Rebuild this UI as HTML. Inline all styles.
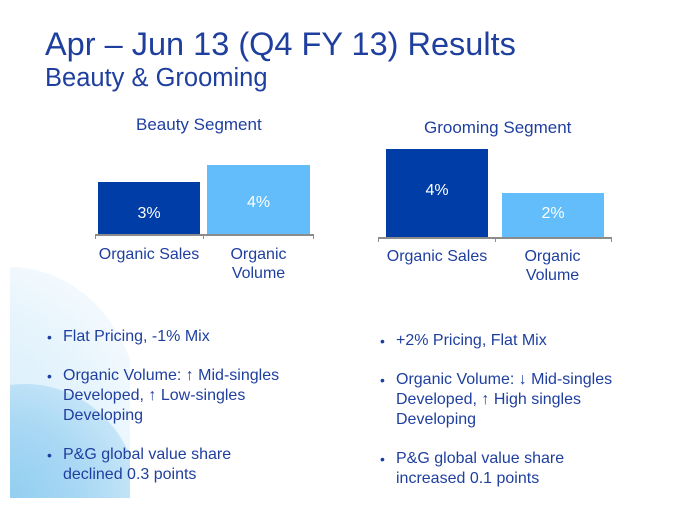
<!DOCTYPE html>
<html><head><style>
html,body{margin:0;width:679px;height:517px;overflow:hidden}
body{background:#fff;position:relative;font-family:"Liberation Sans",Arial,sans-serif;color:#1f3f9f}
.a{position:absolute;white-space:nowrap}
.bg{position:absolute;left:10px;top:267px;width:120px;height:231px;overflow:hidden}
.c1{position:absolute;left:-130px;top:0;width:260px;height:300px;border-radius:50%;background:radial-gradient(circle at 30% 60%,#d4ecfa 0%,#e6f4fc 55%,#f4fafe 80%)}
.c2{position:absolute;left:-100px;top:117px;width:230px;height:240px;border-radius:50%;background:radial-gradient(circle at 40% 50%,#8fcdf0 0%,#a9d8f4 45%,#d5ecfa 90%)}
.bar{position:absolute}
.v{position:absolute;color:#fff;font-size:16px;text-align:center}
.ax{position:absolute;height:2px;background:#8c8c8c}
.tk{position:absolute;width:1px;height:5px;background:#8c8c8c}
.cat{position:absolute;font-size:16px;text-align:center;line-height:19px}
ul{position:absolute;margin:0;padding:0;list-style:none;font-size:16px;line-height:20px}
li{position:relative;padding-left:16px;margin-bottom:19px}
li:last-child{margin-bottom:0}
li:before{content:"•";position:absolute;left:0;font-size:14px}
</style></head><body>
<div class="bg"><div class="c1"></div><div class="c2"></div></div>
<div class="a" style="left:45px;top:26px;font-size:32.5px">Apr – Jun 13 (Q4 FY 13) Results</div>
<div class="a" style="left:45px;top:64px;font-size:25.5px">Beauty &amp; Grooming</div>

<div class="a" style="left:136px;top:115px;font-size:17px">Beauty Segment</div>
<div class="bar" style="left:98px;top:182px;width:102px;height:52px;background:#003da6"></div>
<div class="bar" style="left:207px;top:165px;width:103px;height:69px;background:#62bdfa"></div>
<div class="v" style="left:98px;top:205px;width:102px">3%</div>
<div class="v" style="left:207px;top:194px;width:103px">4%</div>
<div class="ax" style="left:95px;top:234px;width:219px"></div>
<div class="tk" style="left:95px;top:234px"></div><div class="tk" style="left:203px;top:234px"></div><div class="tk" style="left:313px;top:234px"></div>
<div class="cat" style="left:86px;top:245px;width:126px">Organic Sales</div>
<div class="cat" style="left:200px;top:245px;width:117px">Organic<br>Volume</div>

<div class="a" style="left:424px;top:118px;font-size:17px">Grooming Segment</div>
<div class="bar" style="left:386px;top:149px;width:102px;height:88px;background:#003da6"></div>
<div class="bar" style="left:502px;top:193px;width:102px;height:44px;background:#62bdfa"></div>
<div class="v" style="left:386px;top:182px;width:102px">4%</div>
<div class="v" style="left:502px;top:205px;width:102px">2%</div>
<div class="ax" style="left:378px;top:237px;width:234px"></div>
<div class="tk" style="left:378px;top:237px"></div><div class="tk" style="left:495px;top:237px"></div><div class="tk" style="left:611px;top:237px"></div>
<div class="cat" style="left:374px;top:247px;width:126px">Organic Sales</div>
<div class="cat" style="left:494px;top:247px;width:117px">Organic<br>Volume</div>

<ul style="left:47px;top:327px;width:240px">
<li>Flat Pricing, -1% Mix</li>
<li>Organic Volume: ↑ Mid-singles Developed, ↑ Low-singles Developing</li>
<li>P&amp;G global value share<br>declined 0.3 points</li>
</ul>
<ul style="left:380px;top:331px;width:250px">
<li>+2% Pricing, Flat Mix</li>
<li>Organic Volume: ↓ Mid-singles<br>Developed, ↑ High singles<br>Developing</li>
<li>P&amp;G global value share<br>increased 0.1 points</li>
</ul>
</body></html>
